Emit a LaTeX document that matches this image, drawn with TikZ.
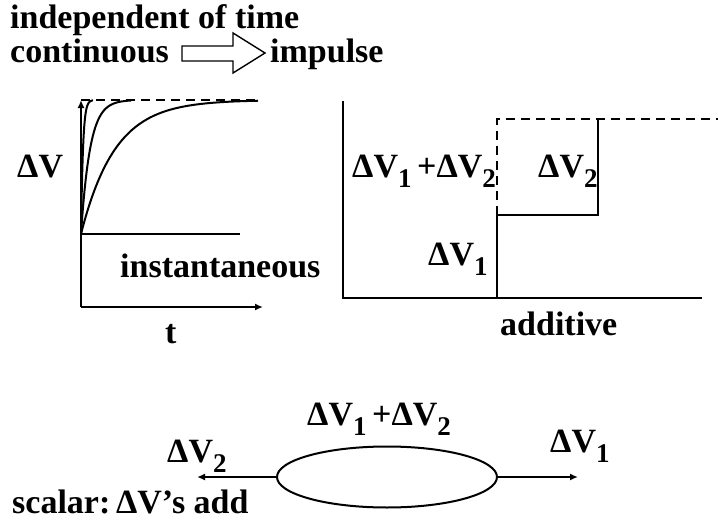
\documentclass[tikz,border=0pt]{standalone}
\usepackage{fontspec}
\setmainfont{Liberation Serif}
\usetikzlibrary{arrows.meta, positioning, shapes.geometric}
\newcommand{\dv}[1]{ΔV\raisebox{-0.3em}{\fontsize{27}{27}\selectfont #1}}

\begin{document}
\begin{tikzpicture}[x=1pt, y=-1pt,
    txt/.style={font=\bfseries\fontsize{34}{34}\selectfont, inner sep=0pt, anchor=base west},
    ln/.style={line width=2pt},
    arr/.style={ln, -{Latex[length=8pt,width=7pt]}}]
            \useasboundingbox (0,0) rectangle (718,522);
            % heading
            \node[txt] (indep) at (10,28) {independent of time};
            \node[txt] (cont) at (10,62) {continuous};
            \node[txt] (imp) at (270,62) {impulse};
            \draw[line width=1.4pt] (182,46) -- (233,46) -- (233,33) -- (265,53) -- (233,73) -- (233,61) -- (182,61) -- cycle;
            % left graph
            \coordinate (O) at (81,307);
            \coordinate (ytop) at (81,100);
            \coordinate (xend) at (263,307);
            \coordinate (inst0) at (81,234);
            \coordinate (inst1) at (240,234);
            \coordinate (lim1) at (258,100);
            \draw[arr] (O) -- (ytop);
            \draw[arr] (O) -- (xend);
            \draw[ln] (inst0) -- (inst1);
            \draw[ln, dashed, dash pattern=on 9pt off 6pt] (ytop) -- (lim1);
            \foreach \k/\xmax in {2/12, 9/50, 34/177} {
                \draw[ln] plot[domain=0:\xmax, samples=60, smooth] ({81+\x}, {234-134*(1-exp(-\x/\k))});
            }
            \node[txt] (dvl) at (17,177) {ΔV};
            \node[txt] (instl) at (120,277) {instantaneous};
            \node[txt] (tl) at (165,343) {t};
            % right graph
            \coordinate (r0) at (343,298);
            \coordinate (rtop) at (343,101);
            \coordinate (s0) at (497,298);
            \coordinate (s1) at (497,215);
            \coordinate (s2) at (598,215);
            \coordinate (s3) at (598,119);
            \coordinate (d1) at (497,119);
            \coordinate (d2) at (718,119);
            \coordinate (rend) at (702,298);
            \draw[ln] (rtop) -- (r0) -- (s0) -- (s1) -- (s2) -- (s3);
            \draw[line width=1.2pt] (s0) -- (rend);
            \draw[ln, dashed, dash pattern=on 9pt off 6pt] (s1) -- (d1) -- (d2);
            \node[txt] (sum) at (352,177) {\dv{1}\,+\dv{2}};
            \node[txt] (dv2r) at (538,177) {\dv{2}};
            \node[txt] (dv1r) at (428,265) {\dv{1}};
            \node[txt] (addl) at (500,335) {additive};
            % scalar picture
            \node[ellipse, draw, ln, minimum width=220pt, minimum height=61pt, inner sep=0pt] (orb) at (387,477) {};
            \coordinate (lend) at (197,477);
            \coordinate (rendb) at (578,477);
            \draw[arr] (orb.west) -- (lend);
            \draw[arr] (orb.east) -- (rendb);
            \node[txt] (sumb) at (307,425) {\dv{1}\,+\dv{2}};
            \node[txt] (dv2b) at (167,462) {\dv{2}};
            \node[txt] (dv1b) at (550,452) {\dv{1}};
            \node[txt] (scal) at (12,513) {scalar:\,ΔV’s add};
\end{tikzpicture}
\end{document}
